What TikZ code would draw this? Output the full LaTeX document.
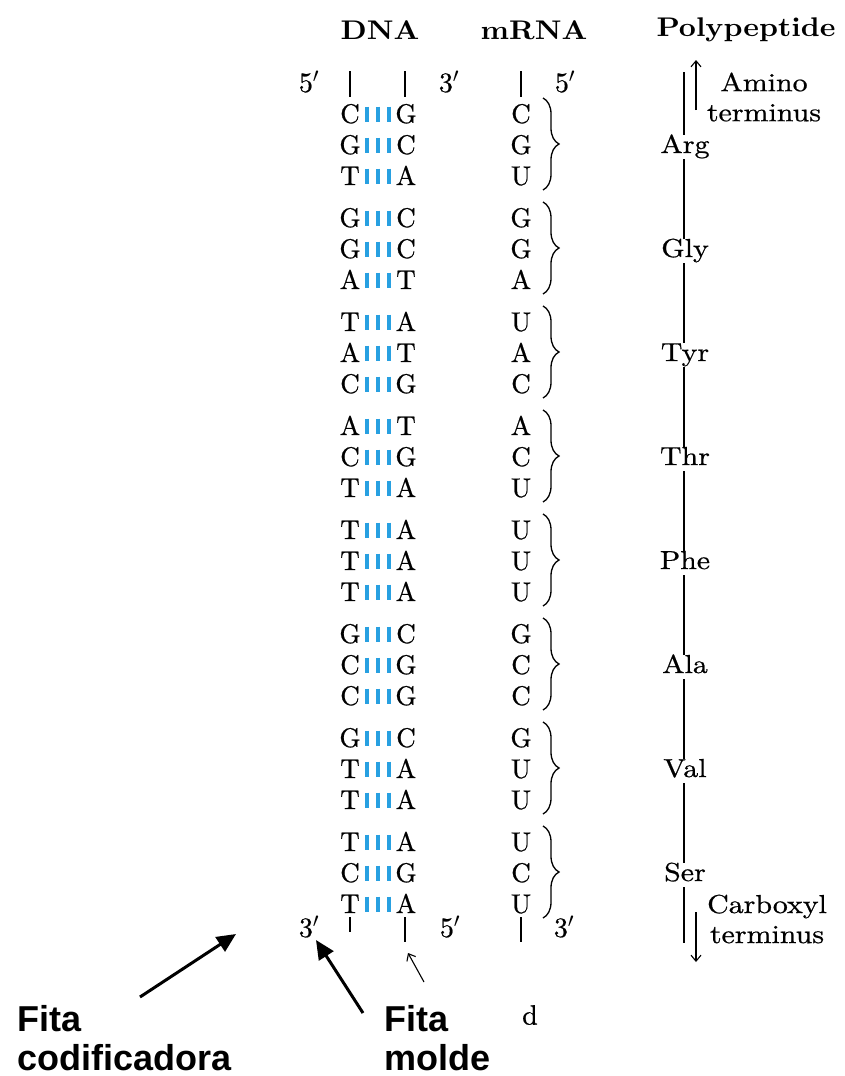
\documentclass[tikz,border=0pt]{standalone}
\usepackage{fontspec}
\newfontfamily\heavy{lmroman10-regular}[Extension=.otf, FakeBold=0.7]
\newfontfamily\heavywide{lmroman10-regular}[Extension=.otf, FakeBold=0.7, FakeStretch=1.15]
\newfontfamily\hdr{lmroman10-bold}[Extension=.otf, FakeStretch=1.1]
\setsansfont{Liberation Sans}
\usetikzlibrary{arrows.meta,decorations.pathreplacing}
\definecolor{bondblue}{RGB}{40,160,225}
\tikzset{
  base/.style={inner sep=0pt, text height=18pt, text depth=0pt, font=\fontsize{27}{30}\selectfont\heavy},
  word/.style={inner sep=0pt, font=\fontsize{26}{30}\selectfont\heavywide, align=center},
  aalabel/.style={inner sep=0pt, text height=18pt, text depth=6pt, font=\fontsize{26}{30}\selectfont\heavywide},
  header/.style={inner sep=0pt, font=\fontsize{27}{30}\selectfont\hdr},
  endlabel/.style={inner sep=0pt, font=\fontsize{28}{32}\selectfont\heavy},
  bond/.style={bondblue, line width=3.5pt},
  tick/.style={line width=1.2pt},
  chain/.style={line width=1.3pt},
  thinarrow/.style={line width=1.1pt, -{Straight Barb[length=6pt,width=10pt]}},
  bigarrow/.style={line width=3pt, -{Triangle[length=19pt,width=17pt]}},
  callout/.style={inner sep=0pt, font=\fontsize{36}{40}\selectfont\sffamily\bfseries, anchor=base west},
  codonbrace/.style={line width=1.3pt, decorate, decoration={brace, amplitude=16pt}}
}
\begin{document}
\begin{tikzpicture}[x=1pt,y=-1pt]
\useasboundingbox (0,0) rectangle (844,1076);

% headers
\node[header] (hdna) at (380,30) {DNA};
\node[header] (hmrna) at (534,30) {mRNA};
\node[header] (hpoly) at (746,30) {Polypeptide};

% top ends
\node[endlabel] (t5a) at (309,82) {5$'$};
\node[endlabel] (t3a) at (449,82) {3$'$};
\node[endlabel] (t5m) at (565,82) {5$'$};
\coordinate (tl1) at (350,71); \coordinate (tl2) at (350,97);
\coordinate (tr1) at (405,71); \coordinate (tr2) at (405,97);
\coordinate (tm1) at (521,71); \coordinate (tm2) at (521,97);
\draw[tick] (tl1) -- (tl2);
\draw[tick] (tr1) -- (tr2);
\draw[tick] (tm1) -- (tm2);

% codons
\foreach \k/\La/\Lb/\Lc/\Ra/\Rb/\Rc/\Ma/\Mb/\Mc/\aa in {
 0/C/G/T/G/C/A/C/G/U/Arg,
 1/G/G/A/C/C/T/G/G/A/Gly,
 2/T/A/C/A/T/G/U/A/C/Tyr,
 3/A/C/T/T/G/A/A/C/U/Thr,
 4/T/T/T/A/A/A/U/U/U/Phe,
 5/G/C/C/C/G/G/G/C/C/Ala,
 6/G/T/T/C/A/A/G/U/U/Val,
 7/T/C/T/A/G/A/U/C/U/Ser}{
  \pgfmathsetmacro{\ya}{114+104*\k}
  \pgfmathsetmacro{\yb}{\ya+31}
  \pgfmathsetmacro{\yc}{\ya+62}
  \node[base] (l\k a) at (350,\ya) {\La};
  \node[base] (l\k b) at (350,\yb) {\Lb};
  \node[base] (l\k c) at (350,\yc) {\Lc};
  \node[base] (r\k a) at (406,\ya) {\Ra};
  \node[base] (r\k b) at (406,\yb) {\Rb};
  \node[base] (r\k c) at (406,\yc) {\Rc};
  \node[base] (m\k a) at (521,\ya) {\Ma};
  \node[base] (m\k b) at (521,\yb) {\Mb};
  \node[base] (m\k c) at (521,\yc) {\Mc};
  \foreach \yy in {\ya,\yb,\yc}{
    \foreach \xx in {367,378,389}{
      \draw[bond] (\xx,\yy-7.5) -- (\xx,\yy+7.5);
    }
  }
  \draw[codonbrace] (543,\ya-16) -- (543,\yc+14);
  \node[aalabel] (p\k) at (685,\yb+2) {\aa};
}

% polypeptide chain
\coordinate (ptop) at (684,72);
\coordinate (pbot) at (684,943);
\draw[chain] (ptop) -- (ptop |- p0.north);
\foreach \k [evaluate=\k as \n using int(\k+1)] in {0,...,6}{
  \draw[chain] (ptop |- p\k.south) -- (ptop |- p\n.north);
}
\draw[chain] (ptop |- p7.south) -- (pbot);

% amino terminus
\coordinate (am1) at (696,110);
\coordinate (am2) at (696,60);
\draw[thinarrow] (am1) -- (am2);
\node[word] (amino) at (764,97) {Amino\\terminus};

% carboxyl terminus
\coordinate (cb1) at (696,912);
\coordinate (cb2) at (696,962);
\draw[thinarrow] (cb1) -- (cb2);
\node[word] (carboxyl) at (767,919) {Carboxyl\\terminus};

% bottom ends
\node[endlabel] (b3a) at (309,927) {3$'$};
\node[endlabel] (b5a) at (450,927) {5$'$};
\node[endlabel] (b3m) at (564,927) {3$'$};
\coordinate (bl1) at (350,917); \coordinate (bl2) at (350,932);
\coordinate (br1) at (405,917); \coordinate (br2) at (405,942);
\coordinate (bm1) at (521,917); \coordinate (bm2) at (521,942);
\draw[tick] (bl1) -- (bl2);
\draw[tick] (br1) -- (br2);
\draw[tick] (bm1) -- (bm2);

% small arrow and stray letter
\coordinate (sa1) at (424,982);
\coordinate (sa2) at (408,953);
\draw[thinarrow] (sa1) -- (sa2);
\node[endlabel] (dletter) at (530,1015) {d};

% callouts
\node[callout] (fita1) at (17,1031) {Fita};
\node[callout] (codif) at (17,1070) {codificadora};
\node[callout] (fita2) at (384,1031) {Fita};
\node[callout] (molde) at (384,1070) {molde};
\coordinate (codtip) at (236,934);
\coordinate (codtail) at (140,997);
\draw[bigarrow] (codtail) -- (codtip);
\coordinate (moltail) at (363,1013);
\coordinate (moltip) at (316,940);
\draw[bigarrow] (moltail) -- (moltip);
\end{tikzpicture}
\end{document}
